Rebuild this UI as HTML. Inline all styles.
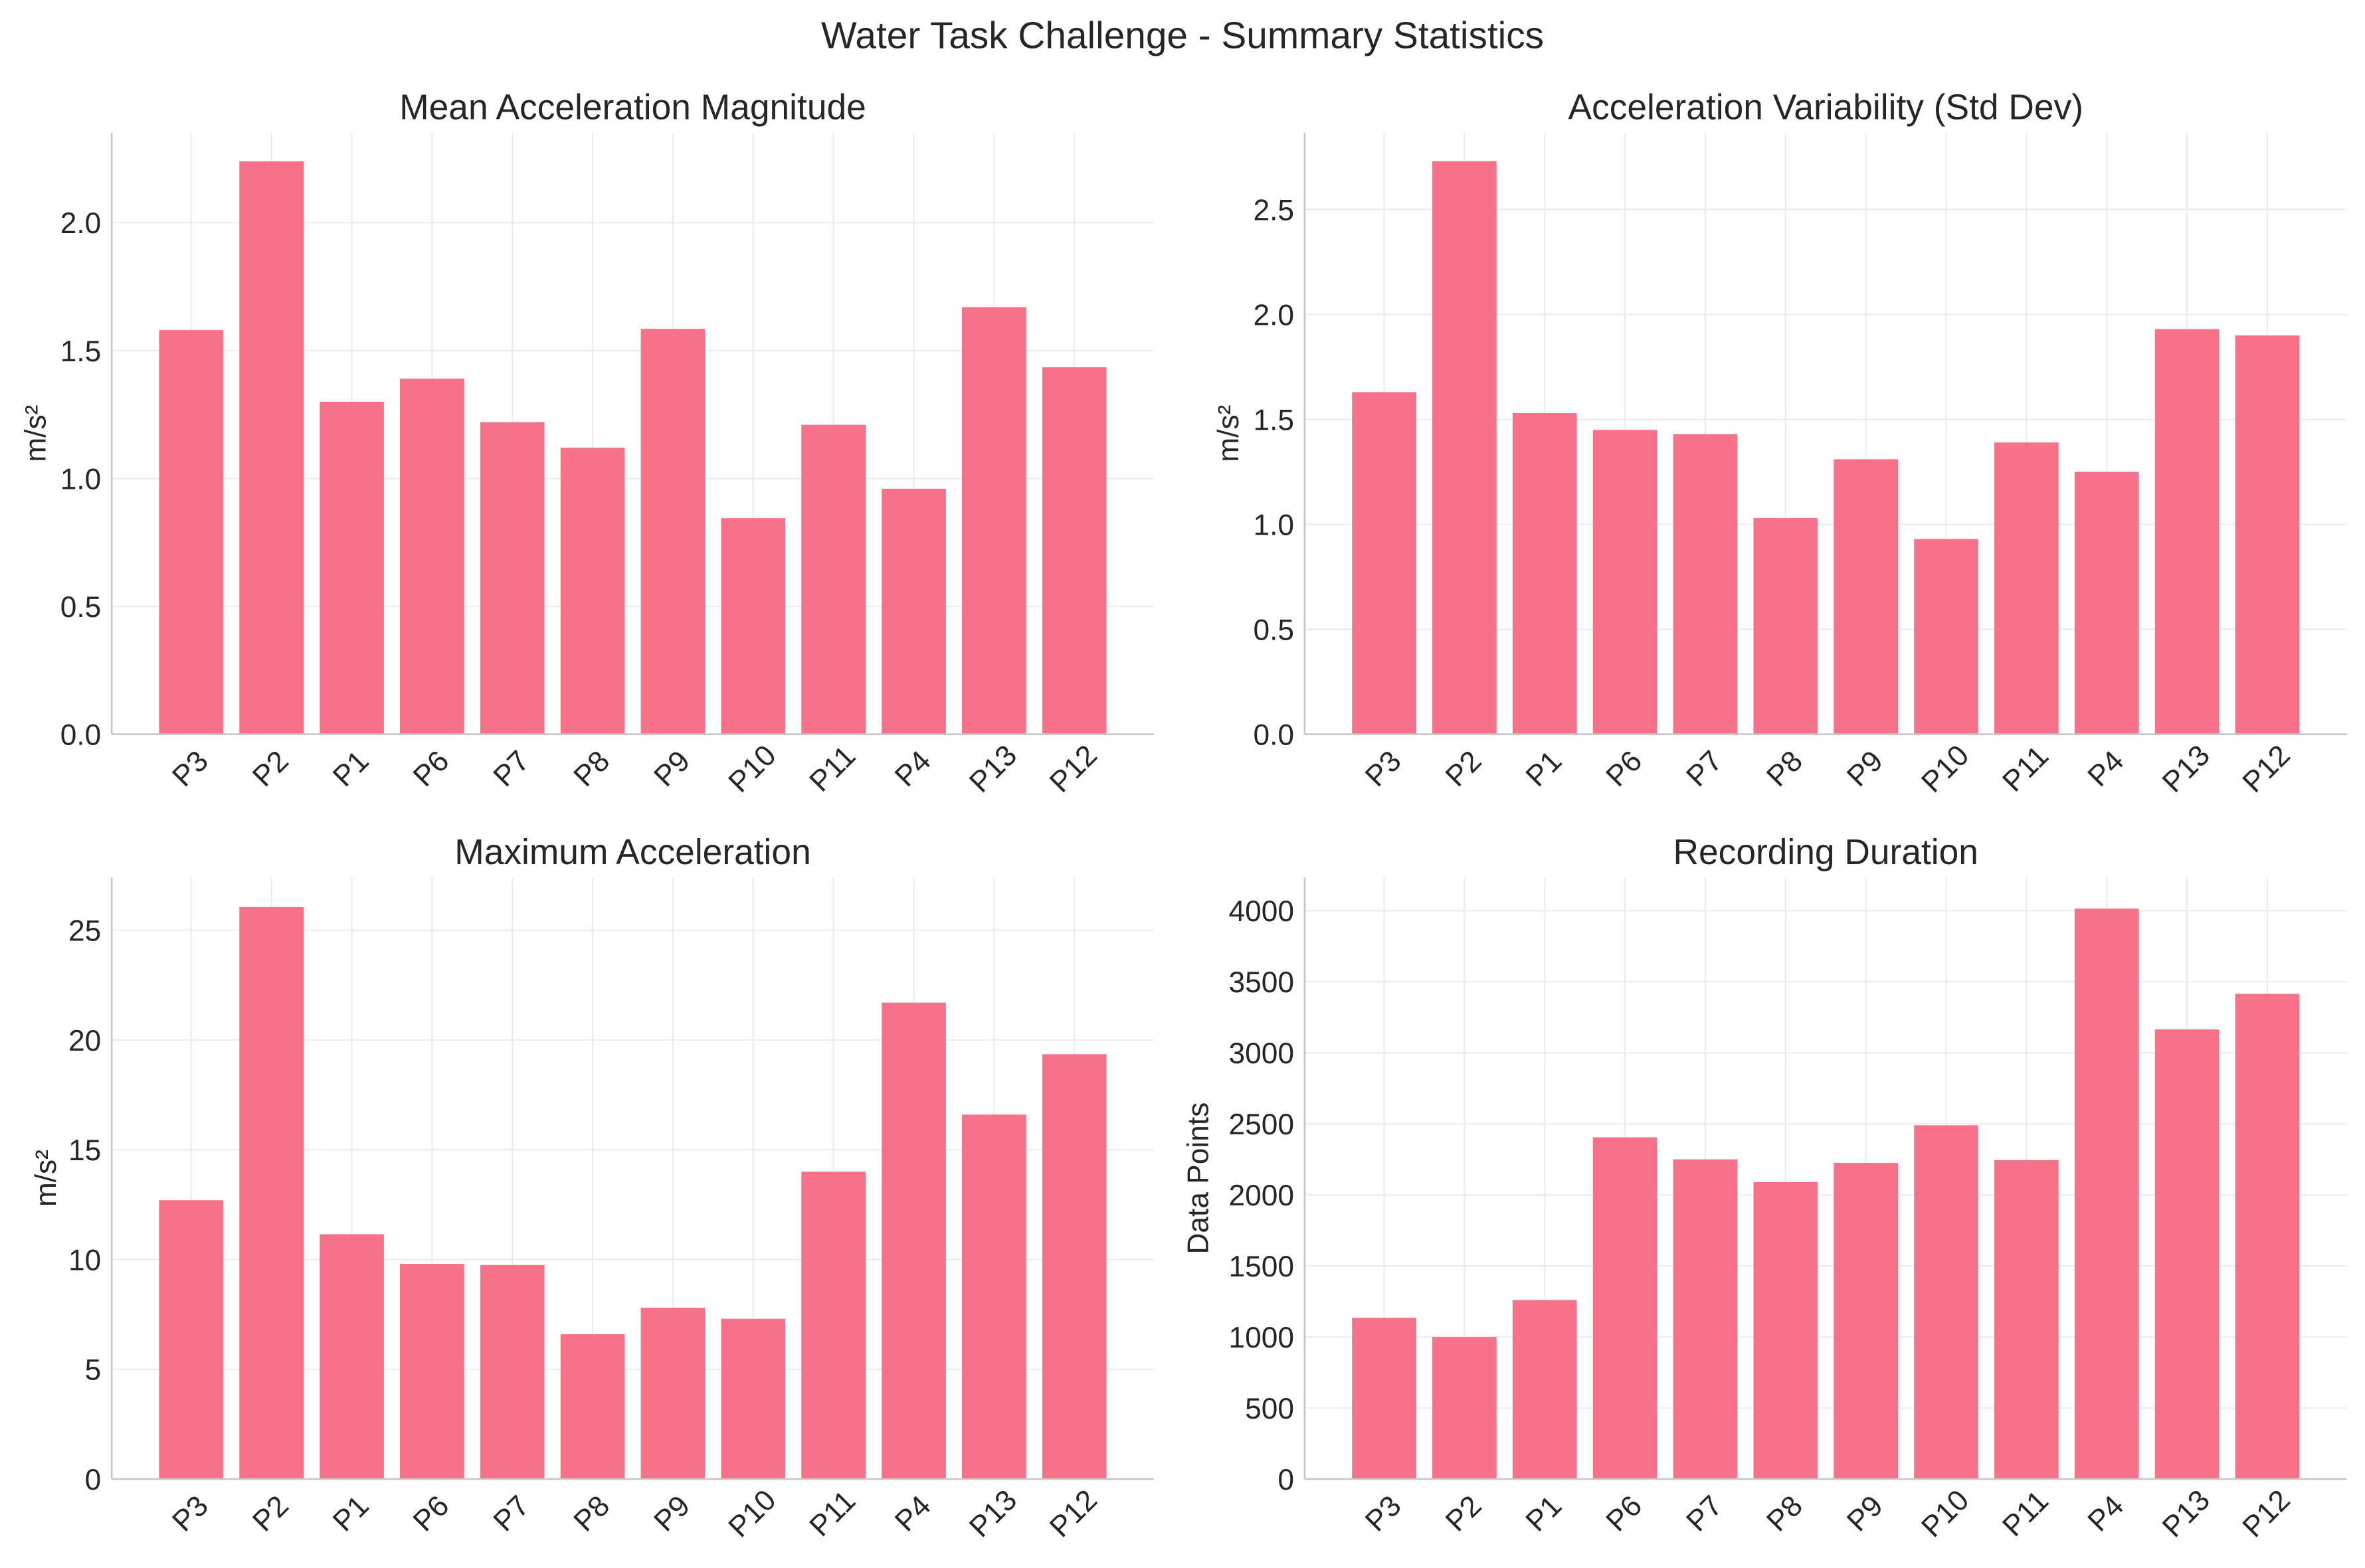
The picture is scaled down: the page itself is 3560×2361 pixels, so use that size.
<!DOCTYPE html>
<html><head><meta charset="utf-8"><style>
html,body{margin:0;padding:0;background:#fff;}
svg{display:block;font-family:"Liberation Sans",Arial,sans-serif;}
</style></head><body>
<svg id="fig" width="3560" height="2361" viewBox="0 0 1568 1040" xmlns="http://www.w3.org/2000/svg">
<rect width="1568" height="1040" fill="#fff"/>
<text x="784" y="32" font-size="25" text-anchor="middle" fill="#262626">Water Task Challenge - Summary Statistics</text>
</svg>
<script>
const categories = ["P3","P2","P1","P6","P7","P8","P9","P10","P11","P4","P13","P12"];
const meanAccel = [1.58,2.24,1.30,1.39,1.22,1.12,1.585,0.845,1.21,0.96,1.67,1.435];
const stdAccel = [1.63,2.73,1.53,1.45,1.43,1.03,1.31,0.93,1.39,1.25,1.93,1.90];
const maxAccel = [12.7,26.05,11.15,9.8,9.75,6.6,7.8,7.3,14.0,21.7,16.6,19.35];
const duration = [1135,1000,1260,2405,2250,2090,2225,2490,2245,4015,3165,3415];
const ticks1 = [0,0.5,1.0,1.5,2.0];
const ticks2 = [0,0.5,1.0,1.5,2.0,2.5];
const ticks3 = [0,5,10,15,20,25];
const ticks4 = [0,500,1000,1500,2000,2500,3000,3500,4000];

const NS="http://www.w3.org/2000/svg";
const svg=document.getElementById('fig');
function mk(tag,attrs,parent){const e=document.createElementNS(NS,tag);for(const k in attrs)e.setAttribute(k,attrs[k]);(parent||svg).appendChild(e);return e;}
const FS=19.5;
const panels=[
 {name:'mean-acceleration',title:'Mean Acceleration Magnitude',vals:meanAccel,ticks:ticks1,dec:1,ylabel:'m/s²',L:74,R:765,T:88,B:487,ymax:2.352,ylx:30},
 {name:'acceleration-variability',title:'Acceleration Variability (Std Dev)',vals:stdAccel,ticks:ticks2,dec:1,ylabel:'m/s²',L:865,R:1556,T:88,B:487,ymax:2.866,ylx:821},
 {name:'maximum-acceleration',title:'Maximum Acceleration',vals:maxAccel,ticks:ticks3,dec:0,ylabel:'m/s²',L:74,R:765,T:582,B:981,ymax:27.4,ylx:37},
 {name:'recording-duration',title:'Recording Duration',vals:duration,ticks:ticks4,dec:0,ylabel:'Data Points',L:865,R:1556,T:582,B:981,ymax:4234,ylx:801}
];
panels.forEach(p=>{
 const g=mk('g',{});
 
 
 const n=categories.length;
 const xmin=-0.99,xmax=n-1+0.99;
 const xs=i=>p.L+(i-xmin)/(xmax-xmin)*(p.R-p.L);
 const ys=v=>p.B-v/p.ymax*(p.B-p.T);
 p.ticks.forEach(t=>{
  const y=ys(t);
  const gl=mk('line',{x1:p.L,x2:p.R,y1:y,y2:y,stroke:'#ebebeb','stroke-width':0.9},g);
  
  
  const tl=mk('text',{x:p.L-7,y:y+7,'font-size':FS,'text-anchor':'end',fill:'#262626'},g);
  
  
  tl.textContent=t.toFixed(p.dec);
 });
 categories.forEach((c,i)=>{
  const x=xs(i);
  const gl=mk('line',{x1:x,x2:x,y1:p.T,y2:p.B,stroke:'#ebebeb','stroke-width':0.9},g);
  
  
 });
 categories.forEach((c,i)=>{
  const x=xs(i),w=0.8/(xmax-xmin)*(p.R-p.L);
  const y=ys(p.vals[i]);
  const b=mk('rect',{x:x-w/2,y:y,width:w,height:p.B-y,fill:'#f67289'},g);
  
  
  const cx=x-1, cy=p.B+22.5;
  const tl=mk('text',{x:cx,y:cy+7,'font-size':FS,'text-anchor':'middle',fill:'#262626',transform:`rotate(-45 ${cx} ${cy})`},g);
  
  
  tl.textContent=c;
 });
 const sl=mk('line',{x1:p.L,x2:p.L,y1:p.T,y2:p.B,stroke:'#c8c8c8','stroke-width':1.2},g);
 
 
 const sb=mk('line',{x1:p.L,x2:p.R,y1:p.B,y2:p.B,stroke:'#c8c8c8','stroke-width':1.2},g);
 
 
 const tt=mk('text',{x:(p.L+p.R)/2,y:p.T-9,'font-size':23.5,'text-anchor':'middle',fill:'#262626'},g);
 
 
 tt.textContent=p.title;
 const cy=(p.T+p.B)/2;
 const yl=mk('text',{x:p.ylx,y:cy,'font-size':FS,'text-anchor':'middle',fill:'#262626',transform:`rotate(-90 ${p.ylx} ${cy})`},g);
 
 
 yl.textContent=p.ylabel;
});
</script>
</body></html>
